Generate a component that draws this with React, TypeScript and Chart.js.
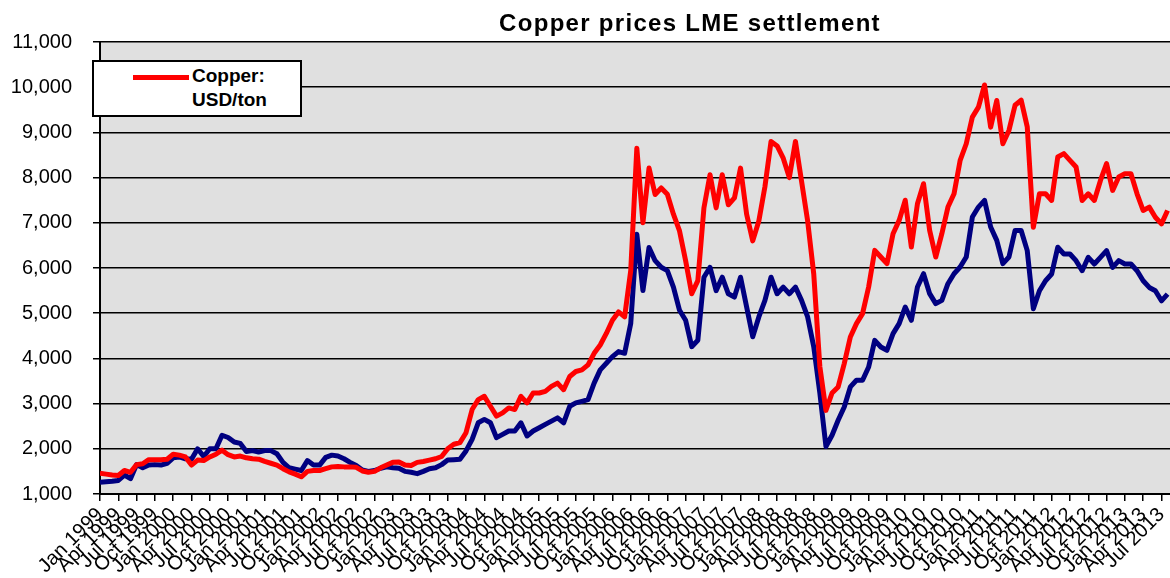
import React, { useEffect, useRef } from "react";
import { Chart, registerables } from "chart.js";

Chart.register(...registerables);

const chartTitle = "Copper prices LME settlement";
const legendLines = ["Copper:", "USD/ton"];

// Quarterly tick labels (one per 3 months)
const quarterLabels = [
  "Jan 1999", "Apr 1999", "Jul 1999", "Oct 1999",
  "Jan 2000", "Apr 2000", "Jul 2000", "Oct 2000",
  "Jan 2001", "Apr 2001", "Jul 2001", "Oct 2001",
  "Jan 2002", "Apr 2002", "Jul 2002", "Oct 2002",
  "Jan 2003", "Apr 2003", "Jul 2003", "Oct 2003",
  "Jan 2004", "Apr 2004", "Jul 2004", "Oct 2004",
  "Jan 2005", "Apr 2005", "Jul 2005", "Oct 2005",
  "Jan 2006", "Apr 2006", "Jul 2006", "Oct 2006",
  "Jan 2007", "Apr 2007", "Jul 2007", "Oct 2007",
  "Jan 2008", "Apr 2008", "Jul 2008", "Oct 2008",
  "Jan 2009", "Apr 2009", "Jul 2009", "Oct 2009",
  "Jan 2010", "Apr 2010", "Jul 2010", "Oct 2010",
  "Jan 2011", "Apr 2011", "Jul 2011", "Oct 2011",
  "Jan 2012", "Apr 2012", "Jul 2012", "Oct 2012",
  "Jan 2013", "Apr 2013", "Jul 2013",
];

// Monthly values, Jan 1999 .. Aug 2013
const copperUsd = [
  1460, 1440, 1420, 1410, 1520, 1480, 1650, 1670, 1760, 1760, 1760, 1770,
  1880, 1860, 1820, 1640, 1750, 1740, 1820, 1880, 1970, 1870, 1820, 1840,
  1800, 1780, 1770, 1720, 1680, 1640, 1560, 1490, 1440, 1380, 1500, 1520,
  1520, 1560, 1600, 1610, 1600, 1600, 1590, 1510, 1480, 1500, 1580, 1640,
  1700, 1710, 1640, 1630, 1700, 1720, 1750, 1780, 1830, 2000, 2100, 2136,
  2356, 2868, 3088, 3161, 2941, 2722, 2795, 2905, 2868, 3161, 3015, 3234,
  3234, 3270, 3380, 3454, 3307, 3600, 3710, 3746, 3856, 4113, 4296, 4552,
  4845, 5028, 4918, 5943, 8650, 7000, 8211, 7626, 7770, 7630, 7190, 6820,
  6160, 5430, 5720, 7330, 8065, 7330, 8065, 7400, 7550, 8210, 7190, 6600,
  7040, 7800, 8800, 8700, 8430, 8000, 8800, 7920, 7040, 5870, 3820, 2850,
  3234, 3369, 3885, 4474, 4769, 4990, 5580, 6390, 6243, 6096, 6759, 7053,
  7500, 6464, 7422, 7864, 6833, 6243, 6759, 7348, 7643, 8380, 8749, 9338,
  9559, 10050, 9117, 9707, 8749, 9043, 9600, 9714, 9122, 6900, 7642, 7642,
  7494, 8456, 8530, 8382, 8234, 7494, 7642, 7494, 7938, 8308, 7716, 8012,
  8086, 8086, 7642, 7272, 7346, 7124, 6976, 7272,
];

const copperSecond = [
  1260, 1270, 1280, 1300, 1420, 1340, 1650, 1580, 1640, 1650, 1640, 1680,
  1800, 1820, 1780, 1770, 2000, 1830, 2000, 2000, 2300, 2250, 2150, 2120,
  1940, 1960, 1930, 1960, 1960, 1890, 1700, 1580, 1550, 1520, 1740, 1640,
  1640, 1810, 1860, 1840, 1780, 1700, 1630, 1530, 1500, 1520, 1570, 1600,
  1580, 1570, 1500, 1480, 1450, 1500, 1560, 1580, 1650, 1750, 1760, 1770,
  1953, 2210, 2575, 2650, 2575, 2246, 2320, 2393, 2393, 2575, 2283, 2393,
  2466, 2540, 2612, 2685, 2575, 2941, 3015, 3051, 3088, 3454, 3747, 3893,
  4040, 4150, 4113, 4771, 6748, 5500, 6455, 6162, 6016, 5943, 5577, 5064,
  4845, 4260, 4400, 5796, 6016, 5500, 5796, 5430, 5357, 5796, 5138, 4479,
  4918, 5284, 5796, 5430, 5577, 5430, 5577, 5284, 4918, 4260, 3234, 2050,
  2300, 2631, 2926, 3369, 3516, 3516, 3811, 4400, 4253, 4180, 4548, 4769,
  5137, 4843, 5580, 5874, 5432, 5211, 5285, 5653, 5874, 6022, 6243, 7127,
  7348, 7496, 6906, 6611, 6096, 6243, 6830, 6828, 6384, 5100, 5496, 5718,
  5866, 6458, 6310, 6310, 6162, 5940, 6236, 6088, 6236, 6384, 6014, 6162,
  6088, 6088, 5940, 5718, 5570, 5496, 5274, 5422,
];

const FONT = "'Liberation Sans', Arial, sans-serif";

export default function App() {
  const ref = useRef<HTMLCanvasElement>(null);

  useEffect(() => {
    if (!ref.current) return;
    const plotBg = {
      id: "plotBg",
      beforeDraw(chart: any) {
        const { ctx, chartArea: a } = chart;
        ctx.save();
        ctx.fillStyle = "#e0e0e0";
        ctx.fillRect(a.left, a.top, a.right - a.left, a.bottom - a.top);
        ctx.restore();
      },
    };
    const chart = new Chart(ref.current, {
      type: "line",
      data: {
        datasets: [
          {
            label: legendLines.join(" "),
            data: copperUsd.map((y, i) => ({ x: i, y })),
            borderColor: "#ff0000",
            backgroundColor: "#ff0000",
            borderWidth: 5,
            pointRadius: 0,
            tension: 0,
            borderJoinStyle: "round",
          },
          {
            label: "series 2",
            data: copperSecond.map((y, i) => ({ x: i, y })),
            borderColor: "#000080",
            backgroundColor: "#000080",
            borderWidth: 5,
            pointRadius: 0,
            tension: 0,
            borderJoinStyle: "round",
          },
        ],
      },
      options: {
        responsive: false,
        animation: false,
        layout: { padding: { top: 42, left: 0, right: 0, bottom: 0 } },
        plugins: {
          legend: { display: false },
          tooltip: { enabled: false },
          title: { display: false },
        },
        scales: {
          x: {
            type: "linear",
            min: 0,
            max: 175.4,
            afterBuildTicks: (s: any) => {
              s.ticks = s.ticks.filter((t: any) => Math.abs(t.value % 3) < 1e-6);
            },
            afterFit: (s: any) => {
              s.height = 84;
              s.paddingLeft = 0;
              s.paddingRight = 0;
            },
            ticks: {
              stepSize: 3,
              includeBounds: false,
              autoSkip: false,
              maxRotation: 45,
              minRotation: 45,
              padding: 2,
              color: "#000",
              font: { family: FONT, size: 20 },
              callback: (v: any) => quarterLabels[Math.round(Number(v) / 3)] ?? "",
            },
            grid: {
              drawOnChartArea: false,
              drawTicks: true,
              tickLength: 7,
              color: "#000",
              lineWidth: 1.5,
            },
            border: { display: true, color: "#000", width: 2 },
          },
          y: {
            min: 1000,
            max: 11000,
            afterFit: (s: any) => {
              s.width = 100;
            },
            ticks: {
              stepSize: 1000,
              padding: 21,
              color: "#000",
              font: { family: FONT, size: 20 },
              callback: (v: any) => Number(v).toLocaleString("en-US"),
            },
            grid: { color: "#000", lineWidth: 1.5, tickLength: 7 },
            border: { display: true, color: "#000", width: 2 },
          },
        },
      },
      plugins: [plotBg],
    } as any);
    return () => chart.destroy();
  }, []);

  return (
    <div
      style={{
        position: "fixed",
        left: 0,
        top: 0,
        width: 1170,
        height: 578,
        overflow: "hidden",
        background: "#fff",
      }}
    >
      <canvas ref={ref} width={1170} height={578} style={{ display: "block" }} />
      <div
        style={{
          position: "absolute",
          left: 440,
          top: 11,
          width: 500,
          textAlign: "center",
          font: `bold 24px/24px ${FONT}`,
          letterSpacing: "1.3px",
          color: "#000",
          whiteSpace: "nowrap",
        }}
      >
        {chartTitle}
      </div>
      <div
        style={{
          position: "absolute",
          left: 92,
          top: 60,
          width: 210,
          height: 57,
          boxSizing: "border-box",
          border: "2px solid #000",
          background: "#fff",
        }}
      >
        <div
          style={{
            position: "absolute",
            left: 39,
            top: 12.5,
            width: 56,
            height: 5,
            background: "#ff0000",
          }}
        />
        <div
          style={{
            position: "absolute",
            left: 98,
            top: 2,
            font: `bold 19px/24px ${FONT}`,
            color: "#000",
            whiteSpace: "nowrap",
          }}
        >
          {legendLines[0]}
          <br />
          {legendLines[1]}
        </div>
      </div>
    </div>
  );
}
